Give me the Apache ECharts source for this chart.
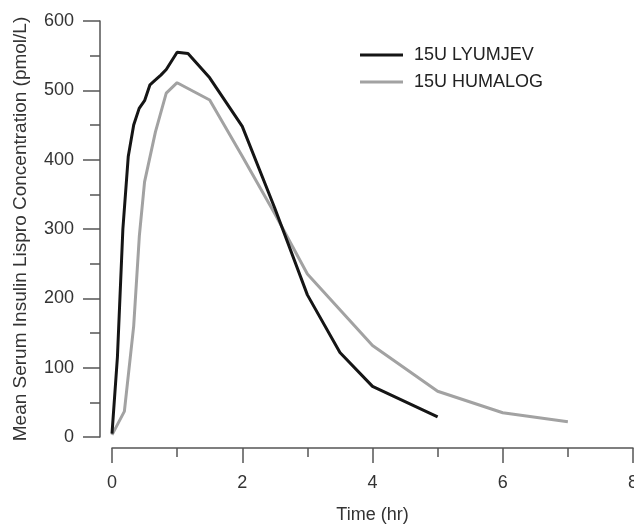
<!DOCTYPE html>
<html>
<head>
<meta charset="utf-8">
<script src="https://cdn.jsdelivr.net/npm/echarts@6/dist/echarts.min.js"></script>
<style>
  html, body { margin: 0; padding: 0; background: #fff; }
  #chart { width: 634px; height: 527px; }
</style>
</head>
<body>
<div id="chart"></div>
<script>
// time (hr) and mean serum insulin lispro (pmol/L)
const lyumjevTime = [0, 0.083, 0.167, 0.25, 0.333, 0.417, 0.5, 0.583, 0.667, 0.75, 0.833, 1.0, 1.167, 1.5, 2.0, 2.5, 3.0, 3.5, 4.0, 5.0];
const lyumjevValue = [5, 115, 300, 405, 450, 474, 485, 508, 515, 522, 530, 555, 553, 518, 448, 330, 205, 122, 73, 29];

const humalogTime = [0, 0.19, 0.333, 0.42, 0.5, 0.667, 0.833, 1.0, 1.5, 2.0, 2.5, 3.0, 4.0, 5.0, 6.0, 7.0];
const humalogValue = [3, 37, 160, 290, 368, 440, 496, 511, 486, 405, 322, 235, 132, 66, 35, 22];

const seriesNames = ['15U LYUMJEV', '15U HUMALOG'];
const xTicks = [0, 8, 2];   // min, max, step
const yTicks = [0, 600, 100];

const pairs = (xs, ys) => xs.map((x, i) => [x, ys[i]]);

const font = 'Liberation Sans, Arial, sans-serif';
const axisColor = '#555';

const myChart = echarts.init(document.getElementById('chart'));

const option = {
    animation: false,
    backgroundColor: '#fff',
    grid: {
        left: 112,
        right: 1,
        top: 21,
        bottom: 90,
        outerBoundsMode: 'none'
    },
    legend: {
        orient: 'vertical',
        left: 360,
        top: 46,
        padding: 0,
        itemWidth: 43,
        itemHeight: 3,
        itemGap: 9,
        icon: 'rect',
        data: seriesNames,
        textStyle: {
            fontFamily: font,
            fontSize: 18,
            color: '#222',
            padding: [0, 0, 0, 6]
        }
    },
    xAxis: {
        type: 'value',
        min: xTicks[0],
        max: xTicks[1],
        interval: xTicks[2],
        offset: 11,
        name: 'Time (hr)',
        nameLocation: 'middle',
        nameGap: 58,
        nameTextStyle: { fontFamily: font, fontSize: 18, color: '#333' },
        axisLine: { onZero: false, lineStyle: { color: axisColor, width: 1.5 } },
        axisTick: { length: 15, lineStyle: { color: axisColor, width: 1.5 } },
        minorTick: { show: true, splitNumber: 2, length: 9, lineStyle: { color: axisColor, width: 1.5 } },
        axisLabel: { margin: 26, fontFamily: font, fontSize: 18, color: '#333' },
        splitLine: { show: false }
    },
    yAxis: {
        type: 'value',
        min: yTicks[0],
        max: yTicks[1],
        interval: yTicks[2],
        offset: 12,
        name: 'Mean Serum Insulin Lispro Concentration (pmol/L)',
        nameLocation: 'middle',
        nameGap: 70,
        nameTextStyle: { fontFamily: font, fontSize: 19, color: '#333' },
        axisLine: { show: true, onZero: false, lineStyle: { color: axisColor, width: 1.5 } },
        axisTick: { show: true, length: 17, lineStyle: { color: axisColor, width: 1.5 } },
        minorTick: { show: true, splitNumber: 2, length: 10, lineStyle: { color: axisColor, width: 1.5 } },
        axisLabel: { margin: 26, fontFamily: font, fontSize: 18, color: '#333' },
        splitLine: { show: false }
    },
    series: [
        {
            name: seriesNames[0],
            type: 'line',
            showSymbol: false,
            color: '#151515',
            lineStyle: { width: 3 },
            data: pairs(lyumjevTime, lyumjevValue),
            z: 3
        },
        {
            name: seriesNames[1],
            type: 'line',
            showSymbol: false,
            color: '#a2a2a2',
            lineStyle: { width: 3 },
            data: pairs(humalogTime, humalogValue),
            z: 2
        }
    ]
};

myChart.setOption(option);
</script>
</body>
</html>
